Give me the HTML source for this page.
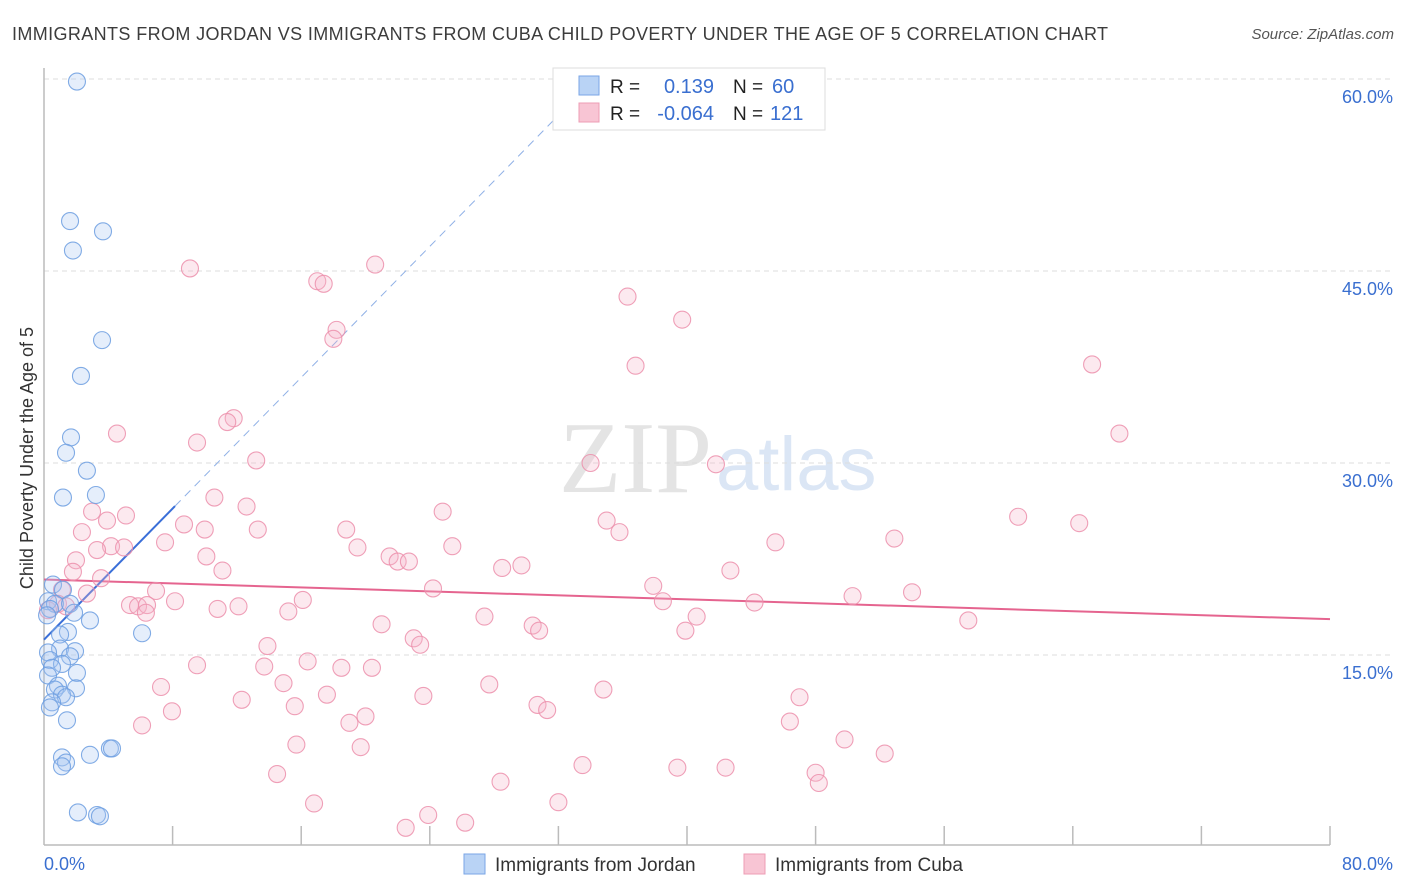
<!DOCTYPE html>
<html><head><meta charset="utf-8"><style>
html,body{margin:0;padding:0;background:#fff;}
svg{display:block;font-family:"Liberation Sans",sans-serif;}
</style></head><body>
<svg id="chart" width="1406" height="892">
<text x="12" y="40" font-size="18" fill="#3c3c3c" textLength="1096" lengthAdjust="spacing">IMMIGRANTS FROM JORDAN VS IMMIGRANTS FROM CUBA CHILD POVERTY UNDER THE AGE OF 5 CORRELATION CHART</text>
<text x="1394" y="39" font-size="15" font-style="italic" fill="#555" text-anchor="end">Source: ZipAtlas.com</text>
<text x="33" y="458" font-size="18" fill="#333" text-anchor="middle" transform="rotate(-90 33 458)">Child Poverty Under the Age of 5</text>
<text x="712" y="492" font-size="102" fill="#e4e4e4" text-anchor="end" font-family="Liberation Serif,serif">ZIP</text>
<text x="716" y="490" font-size="76" fill="#dbe6f5">atlas</text>
<g id="grid"></g><g id="axes"></g><g id="trend"></g><g id="pts"></g>
<g>
<rect x="553" y="68" width="272" height="62" fill="#fff" stroke="#ddd"/>
<rect x="579" y="76" width="20" height="19" fill="#b9d3f5" stroke="#7aa6e6"/>
<rect x="579" y="103" width="20" height="19" fill="#f8c5d4" stroke="#ee9db5"/>
<text x="610" y="93" font-size="19" fill="#222">R =</text>
<text x="714" y="93" font-size="20" fill="#3a6fd0" text-anchor="end">0.139</text>
<text x="733" y="93" font-size="19" fill="#222">N =</text>
<text x="772" y="93" font-size="20" fill="#3a6fd0">60</text>
<text x="610" y="120" font-size="19" fill="#222">R =</text>
<text x="714" y="120" font-size="20" fill="#3a6fd0" text-anchor="end">-0.064</text>
<text x="733" y="120" font-size="19" fill="#222">N =</text>
<text x="770" y="120" font-size="20" fill="#3a6fd0">121</text>
</g>
<text x="44" y="870" font-size="18" fill="#3a6fd0">0.0%</text>
<text x="1393" y="870" font-size="18" fill="#3a6fd0" text-anchor="end">80.0%</text>
<g>
<rect x="464" y="854" width="21" height="20" fill="#b9d3f5" stroke="#7aa6e6"/>
<text x="495" y="871" font-size="19" fill="#333">Immigrants from Jordan</text>
<rect x="744" y="854" width="21" height="20" fill="#f8c5d4" stroke="#ee9db5"/>
<text x="775" y="871" font-size="19" fill="#333">Immigrants from Cuba</text>
</g>
</svg>
<script>
const yTicks=[15,30,45,60];
const yTickLabels=["15.0%","30.0%","45.0%","60.0%"];
const xTicks=[8,16,24,32,40,48,56,64,72,80];
const jordanX=[2.05,1.62,3.67,1.80,3.61,2.30,1.68,1.37,2.67,3.23,1.18,0.56,1.18,0.25,0.68,1.62,0.37,1.87,0.19,2.86,1.49,1.0,6.10,1.0,1.93,0.25,0.37,1.62,1.12,0.50,2.05,0.25,0.87,1.99,0.68,1.12,1.37,0.50,0.37,1.43,4.10,4.23,1.12,2.86,1.37,1.12,2.11,3.30,3.48];
const jordanY=[59.8,48.9,48.1,46.6,39.6,36.8,32.0,30.8,29.4,27.5,27.3,20.5,20.1,19.2,19.0,19.0,18.6,18.3,18.1,17.7,16.8,16.6,16.7,15.5,15.3,15.2,14.6,14.9,14.3,14.0,13.6,13.4,12.6,12.4,12.3,11.9,11.7,11.3,10.9,9.9,7.7,7.7,7.0,7.2,6.6,6.3,2.7,2.5,2.4];
const cubaX=[9.08,20.6,17.0,17.4,36.3,39.7,18.2,18.0,36.8,65.2,11.8,11.4,4.54,66.9,9.52,13.2,34.0,41.8,10.6,12.6,2.99,24.8,5.10,3.92,35.0,60.6,64.4,8.71,10.0,13.3,18.8,35.8,2.36,45.5,52.9,7.53,4.17,3.30,4.98,19.5,25.4,21.5,22.0,22.7,29.7,1.99,28.5,1.80,10.1,11.1,42.7,3.55,24.2,37.9,54.0,6.97,50.3,1.12,2.67,8.15,16.1,38.5,5.35,5.85,6.41,12.1,10.8,6.34,15.2,44.2,40.6,27.4,21.0,30.4,30.8,39.9,57.5,23.0,23.4,13.9,9.52,13.7,16.4,18.5,20.4,7.28,14.9,27.7,34.8,17.6,23.6,12.3,15.6,47.0,7.96,30.7,31.3,20.0,19.0,46.4,6.10,15.7,19.7,49.8,52.3,33.5,14.5,39.4,42.4,48.0,28.4,48.2,32.0,16.8,23.9,22.5,26.2,0.87,0.25,1.37];
const cubaY=[45.2,45.5,44.2,44.0,43.0,41.2,40.4,39.7,37.6,37.7,33.5,33.2,32.3,32.3,31.6,30.2,30.0,29.9,27.3,26.6,26.2,26.2,25.9,25.5,25.5,25.8,25.3,25.2,24.8,24.8,24.8,24.6,24.6,23.8,24.1,23.8,23.5,23.2,23.4,23.4,23.5,22.7,22.3,22.3,22.0,22.4,21.8,21.5,22.7,21.6,21.6,21.0,20.2,20.4,19.9,20.0,19.6,20.1,19.8,19.2,19.3,19.2,18.9,18.8,18.9,18.8,18.6,18.3,18.4,19.1,18.0,18.0,17.4,17.3,16.9,16.9,17.7,16.3,15.8,15.7,14.2,14.1,14.5,14.0,14.0,12.5,12.8,12.7,12.3,11.9,11.8,11.5,11.0,11.7,10.6,11.1,10.7,10.2,9.7,9.8,9.5,8.0,7.8,8.4,7.3,6.4,5.7,6.2,6.2,5.8,5.1,5.0,3.5,3.4,2.5,1.5,1.9,19.0,18.5,18.8];
const jordanTrend=[16.2,1.28];   // intercept, slope
const jordanSolidEnd=8.15, jordanDashEnd=33;
const cubaTrend=[20.9,17.8];     // y at x=0, y at x=80

const NS="http://www.w3.org/2000/svg";
const sx=v=>44+v*(1286/80);
const sy=v=>847-v*12.8;
function mk(tag,attrs,parent){const e=document.createElementNS(NS,tag);for(const k in attrs)e.setAttribute(k,attrs[k]);document.getElementById(parent).appendChild(e);return e;}
yTicks.forEach((t,i)=>{
  const l=mk('line',{x1:44,x2:1393,y1:sy(t),y2:sy(t),stroke:'#ddd','stroke-dasharray':'5,4'},'grid');
  
  
  const tx=mk('text',{x:1393,y:sy(t)+24,'font-size':18,fill:'#3a6fd0','text-anchor':'end'},'grid');
  tx.textContent=yTickLabels[i];
  
  
});
let a=mk('line',{x1:44,x2:44,y1:68,y2:845,stroke:'#bbb','stroke-width':1.5},'axes');


a=mk('line',{x1:44,x2:1330,y1:845,y2:845,stroke:'#bbb','stroke-width':1.5},'axes');


xTicks.forEach(t=>{
  const l=mk('line',{x1:sx(t),x2:sx(t),y1:826,y2:845,stroke:'#bbb','stroke-width':1.5},'axes');
  
  
});
function pts(xs,ys,fill,stroke,name){
  xs.forEach((x,i)=>{
    const c=mk('circle',{cx:sx(x),cy:sy(ys[i]),r:8.5,fill:fill,'fill-opacity':0.3,stroke:stroke,'stroke-width':1.1,'stroke-opacity':0.85},'pts');
    
    
  });
}
pts(cubaX,cubaY,'#f6b6c9','#ec8fab','cuba-point');
pts(jordanX,jordanY,'#a9c8f2','#6c9de0','jordan-point');
let t=mk('line',{x1:sx(0),y1:sy(cubaTrend[0]),x2:sx(80),y2:sy(cubaTrend[1]),stroke:'#e5648f','stroke-width':2},'trend');


t=mk('line',{x1:sx(0),y1:sy(jordanTrend[0]),x2:sx(jordanSolidEnd),y2:sy(jordanTrend[0]+jordanTrend[1]*jordanSolidEnd),stroke:'#3a6fd8','stroke-width':2},'trend');


t=mk('line',{x1:sx(jordanSolidEnd),y1:sy(jordanTrend[0]+jordanTrend[1]*jordanSolidEnd),x2:sx(jordanDashEnd),y2:sy(jordanTrend[0]+jordanTrend[1]*jordanDashEnd),stroke:'#8fb0e6','stroke-width':1,'stroke-dasharray':'8,6'},'trend');


</script>
</body></html>
